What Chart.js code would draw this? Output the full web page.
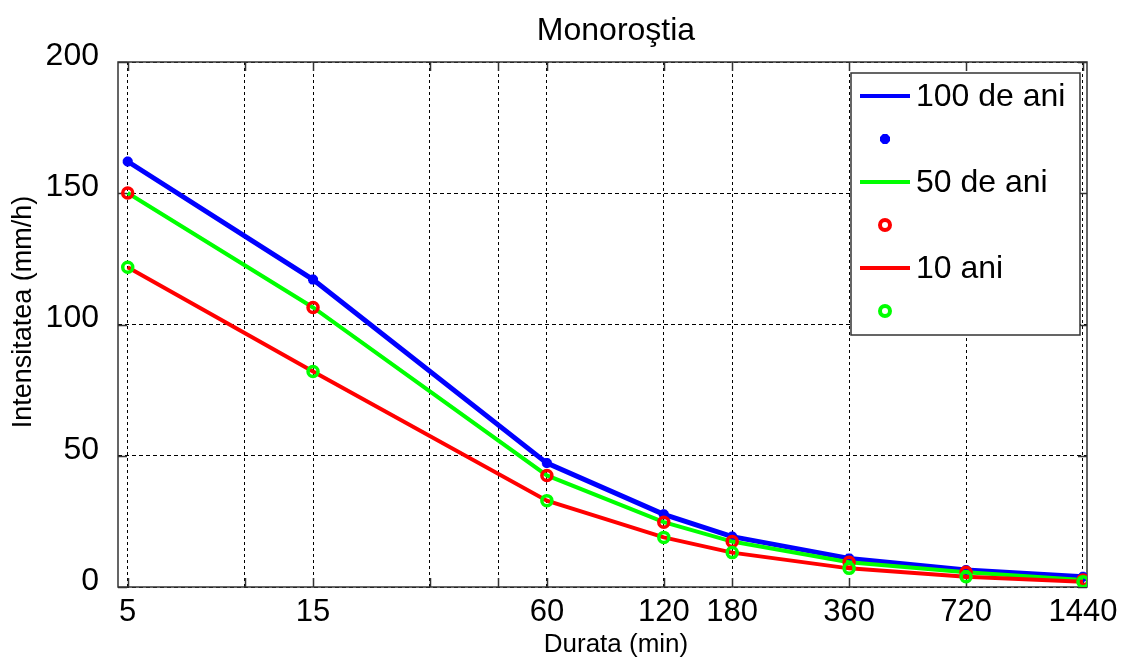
<!DOCTYPE html>
<html>
<head>
<meta charset="utf-8">
<title>Monoroştia</title>
<script src="https://cdn.jsdelivr.net/npm/chart.js@4.4.1/dist/chart.umd.min.js"></script>
<style>
  html, body { margin: 0; padding: 0; background: #fff; }
  #wrap { width: 1127px; height: 664px; }
</style>
</head>
<body>
<div id="wrap"><canvas id="c" width="1127" height="664"></canvas></div>
<script>
// Rainfall intensity (mm/h) against duration (min) for three return periods
const durations = [5, 15, 60, 120, 180, 360, 720, 1440];
const intensity100 = [162.1, 117.1, 47.2, 27.7, 19.2, 10.9, 6.5, 3.9];
const intensity50 = [150.1, 106.5, 42.5, 24.7, 17.3, 9.4, 5.6, 2.7];
const intensity10 = [121.8, 82.1, 32.9, 18.9, 13.1, 7.1, 3.9, 2.0];

// Axis ticks: grid lines at every duration, labels only on some
const gridDurations = [5, 10, 15, 30, 45, 60, 120, 180, 360, 720, 1440];
const labelledDurations = [5, 15, 60, 120, 180, 360, 720, 1440];
const yTicks = [0, 50, 100, 150, 200];

const seriesNames = ['100 de ani', '50 de ani', '10 ani'];
const chartTitle = 'Monoroştia';
const xTitle = 'Durata (min)';
const yTitle = 'Intensitatea (mm/h)';

const FONT = "'Liberation Sans', Arial, sans-serif";
const BLUE = '#0000ff', GREEN = '#00ff00', RED = '#ff0000';

const toPoints = arr => durations.map((d, i) => ({ x: d, y: arr[i] }));

function lineSet(label, arr, color, width, order) {
  return {
    label, data: toPoints(arr), borderColor: color, backgroundColor: color,
    borderWidth: width, pointRadius: 0, fill: false, tension: 0, order
  };
}
function markerSet(arr, color, style, radius, order) {
  return {
    label: '', data: toPoints(arr), showLine: false, pointStyle: style,
    pointRadius: radius, pointBorderWidth: 3.5, pointBorderColor: color,
    pointBackgroundColor: style === 'circle' ? 'rgba(0,0,0,0)' : color, order
  };
}

// Later series sit on top (lower order is drawn last)
const datasets = [
  lineSet(seriesNames[0], intensity100, BLUE, 5, 6),
  markerSet(intensity100, BLUE, 'star', 5, 5),
  lineSet(seriesNames[1], intensity50, GREEN, 4, 4),
  markerSet(intensity50, RED, 'circle', 5, 3),
  lineSet(seriesNames[2], intensity10, RED, 4, 2),
  markerSet(intensity10, GREEN, 'circle', 5, 1)
];

// Solid axes box with short inward tick marks
const framePlugin = {
  id: 'frame',
  beforeDatasetsDraw(chart) {
    const { ctx, chartArea: a, scales } = chart;
    const len = 9;
    ctx.save();
    ctx.strokeStyle = '#333';
    ctx.lineWidth = 1.5;
    ctx.setLineDash([]);
    ctx.beginPath();
    gridDurations.forEach(v => {
      const x = Math.round(scales.x.getPixelForValue(v)) + 0.5;
      ctx.moveTo(x, a.top); ctx.lineTo(x, a.top + len);
      ctx.moveTo(x, a.bottom); ctx.lineTo(x, a.bottom - len);
    });
    yTicks.forEach(v => {
      const y = Math.round(scales.y.getPixelForValue(v)) + 0.5;
      ctx.moveTo(a.left, y); ctx.lineTo(a.left + len, y);
      ctx.moveTo(a.right, y); ctx.lineTo(a.right - len, y);
    });
    ctx.stroke();
    ctx.strokeRect(a.left, a.top, a.right - a.left, a.bottom - a.top);
    ctx.restore();
  }
};

// Boxed legend in the upper right: line entries followed by marker-only entries
const legendPlugin = {
  id: 'boxLegend',
  afterDatasetsDraw(chart) {
    const { ctx } = chart;
    const box = { x: 851, y: 73, w: 229, h: 262 };
    const rowY0 = 96, rowStep = 43;
    ctx.save();
    ctx.fillStyle = '#fff';
    ctx.fillRect(box.x, box.y, box.w, box.h);
    ctx.strokeStyle = '#333';
    ctx.lineWidth = 1.5;
    ctx.strokeRect(box.x, box.y, box.w, box.h);
    chart.data.datasets.forEach((ds, i) => {
      const y = rowY0 + i * rowStep;
      if (ds.showLine === false) {
        ctx.strokeStyle = ds.pointBorderColor;
        ctx.fillStyle = ds.pointBackgroundColor;
        Chart.helpers.drawPoint(ctx, {
          pointStyle: ds.pointStyle, radius: ds.pointRadius,
          borderWidth: ds.pointBorderWidth, rotation: 0
        }, 885, y);
      } else {
        ctx.strokeStyle = ds.borderColor;
        ctx.lineWidth = 4;
        ctx.beginPath();
        ctx.moveTo(860, y); ctx.lineTo(910, y);
        ctx.stroke();
        ctx.fillStyle = '#000';
        ctx.font = '32px ' + FONT;
        ctx.textAlign = 'left';
        ctx.textBaseline = 'middle';
        ctx.fillText(ds.label, 916, y + 1);
      }
    });
    ctx.restore();
  }
};

// Chart title and axis titles
const titlesPlugin = {
  id: 'titles',
  afterDraw(chart) {
    const { ctx } = chart;
    ctx.save();
    ctx.fillStyle = '#000';
    ctx.textAlign = 'center';
    ctx.textBaseline = 'alphabetic';
    ctx.font = '32px ' + FONT;
    ctx.fillText(chartTitle, 616, 40);
    ctx.font = '26px ' + FONT;
    ctx.fillText(xTitle, 616, 652);
    ctx.translate(31, 312);
    ctx.rotate(-Math.PI / 2);
    ctx.font = '27px ' + FONT;
    ctx.fillText(yTitle, 0, 0);
    ctx.restore();
  }
};

new Chart(document.getElementById('c'), {
  type: 'line',
  data: { datasets },
  plugins: [framePlugin, legendPlugin, titlesPlugin],
  options: {
    responsive: false,
    devicePixelRatio: 1,
    animation: false,
    layout: { padding: { top: 62, right: 40, bottom: 0, left: 0 } },
    plugins: { legend: { display: false }, tooltip: { enabled: false }, title: { display: false } },
    scales: {
      x: {
        type: 'logarithmic',
        min: 4.72,
        max: 1475,
        afterBuildTicks: s => { s.ticks = gridDurations.map(v => ({ value: v })); },
        afterFit: s => { s.height = 77; },
        grid: { color: '#000', lineWidth: 1, drawTicks: false },
        border: { display: false, dash: [3, 3] },
        ticks: {
          autoSkip: false, maxRotation: 0, minRotation: 0, padding: 7,
          color: '#000', font: { family: FONT, size: 31 },
          callback: v => labelledDurations.includes(v) ? String(v) : ''
        }
      },
      y: {
        type: 'linear',
        min: 0,
        max: 200,
        afterBuildTicks: s => { s.ticks = yTicks.map(v => ({ value: v })); },
        afterFit: s => { s.width = 118; },
        grid: { color: '#000', lineWidth: 1, drawTicks: false },
        border: { display: false, dash: [4, 3] },
        ticks: {
          padding: 19, labelOffset: -6,
          color: '#000', font: { family: FONT, size: 32 },
          callback: v => String(v)
        }
      }
    }
  }
});
</script>
</body>
</html>
